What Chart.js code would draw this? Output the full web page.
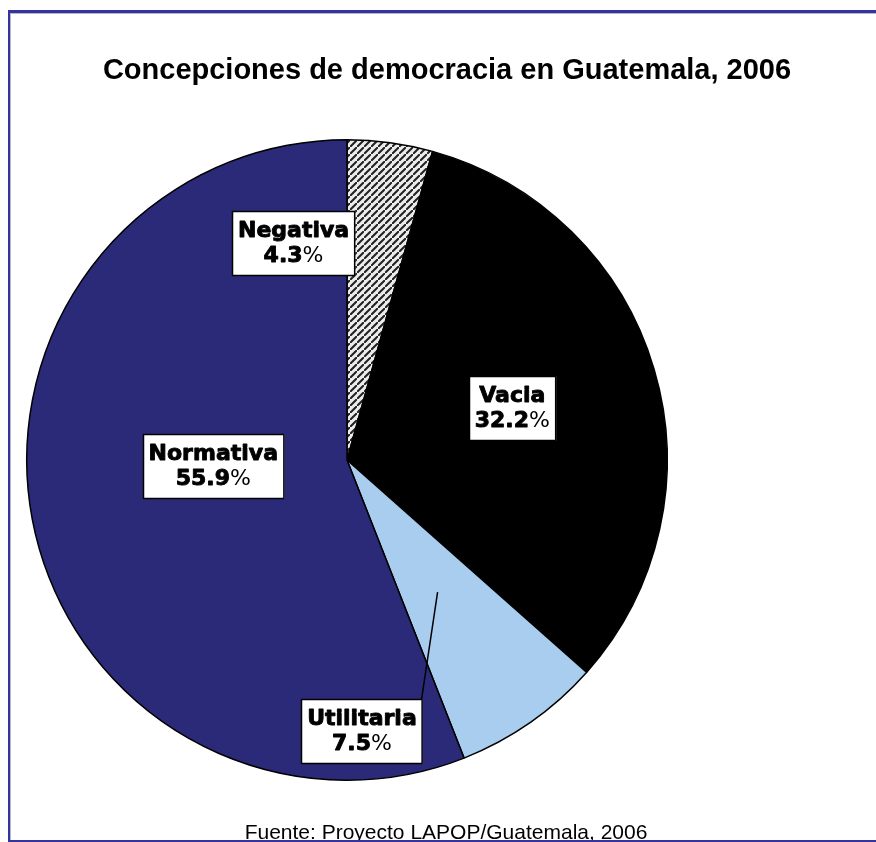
<!DOCTYPE html>
<html>
<head>
<meta charset="utf-8">
<script src="https://cdn.jsdelivr.net/npm/chart.js@4/dist/chart.umd.min.js"></script>
<style>
  html, body { margin: 0; padding: 0; background: #fff; }
  canvas { display: block; }
</style>
</head>
<body>
<canvas id="pieChart" width="876" height="842"></canvas>
<script>
// Datos del gráfico
const categories = ['Negativa', 'Vacia', 'Utilitaria', 'Normativa'];
const percentages = [4.3, 32.2, 7.5, 55.9];
const chartTitle = 'Concepciones de democracia en Guatemala, 2006';
const sourceNote = 'Fuente: Proyecto LAPOP/Guatemala, 2006';

// Motivo rayado para la porción "Negativa"
function makeHatch() {
    const s = 7;
    const tile = document.createElement('canvas');
    tile.width = s;
    tile.height = s;
    const c = tile.getContext('2d');
    c.fillStyle = '#ececec';
    c.fillRect(0, 0, s, s);
    c.strokeStyle = '#222';
    c.lineWidth = 2;
    c.beginPath();
    c.moveTo(-1, s + 1); c.lineTo(s + 1, -1);
    c.moveTo(-s - 1, 1); c.lineTo(1, -s - 1);
    c.moveTo(s - 1, 2 * s + 1); c.lineTo(2 * s + 1, s - 1);
    c.stroke();
    return document.getElementById('pieChart').getContext('2d').createPattern(tile, 'repeat');
}

// Ajustes de posición de las etiquetas (ángulo extra en grados, fracción del radio)
const labelPlacement = {
    Negativa:   { dAngle: -21.6, frac: 0.697 },
    Vacia:      { dAngle: -0.9,  frac: 0.541 },
    Utilitaria: { dAngle: 31.8,  frac: 0.848, leader: { dAngle: 0.5, frac: 0.5 } },
    Normativa:  { dAngle: 8.0,   frac: 0.418 }
};

const framePlugin = {
    id: 'frame',
    afterDraw(chart) {
        const ctx = chart.ctx;
        const w = chart.width;
        ctx.save();
        // título
        ctx.fillStyle = '#000';
        ctx.textAlign = 'center';
        ctx.textBaseline = 'alphabetic';
        ctx.font = 'bold 29px "Liberation Sans", Arial, sans-serif';
        ctx.fillText(chartTitle, 447, 79);
        // fuente
        ctx.font = '21px "Liberation Sans", Arial, sans-serif';
        ctx.fillText(sourceNote, 446, 839);
        // marco
        ctx.fillStyle = '#b8b8b8';
        ctx.fillRect(10, 13, 1, 827);
        ctx.fillRect(10, 13, w - 10, 1);
        ctx.fillStyle = '#3434a0';
        ctx.fillRect(8, 10, 2, 832);
        ctx.fillRect(8, 10, w - 8, 3);
        ctx.fillRect(8, 840, w - 8, 2);
        ctx.restore();
    }
};

function heavyText(ctx, text, x, y) {
    ctx.fillText(text, x, y);
    ctx.strokeText(text, x, y);
}

const boxLabelPlugin = {
    id: 'boxLabels',
    afterDatasetsDraw(chart) {
        const ctx = chart.ctx;
        const meta = chart.getDatasetMeta(0);
        const nameFont = 'bold 22px "DejaVu Sans", sans-serif';
        const pctFont = '22px "DejaVu Sans", sans-serif';
        const lineH = 25;
        ctx.save();
        meta.data.forEach((arc, i) => {
            const name = categories[i];
            const place = labelPlacement[name];
            const mid = (arc.startAngle + arc.endAngle) / 2;
            const r = arc.outerRadius;
            const a = mid + place.dAngle * Math.PI / 180;
            const cx = arc.x + Math.cos(a) * r * place.frac;
            const cy = arc.y + Math.sin(a) * r * place.frac;

            const num = percentages[i].toFixed(1);
            ctx.font = nameFont;
            const nameW = ctx.measureText(name).width;
            const numW = ctx.measureText(num).width;
            ctx.font = pctFont;
            const pctW = ctx.measureText('%').width;
            const boxW = Math.max(nameW, numW + pctW) + 12;
            const boxH = lineH * 2 + 15;
            const bx = Math.round(cx - boxW / 2);
            const by = Math.round(cy - boxH / 2);

            if (place.leader) {
                const la = mid + place.leader.dAngle * Math.PI / 180;
                const lx = arc.x + Math.cos(la) * r * place.leader.frac;
                const ly = arc.y + Math.sin(la) * r * place.leader.frac;
                ctx.strokeStyle = '#000';
                ctx.lineWidth = 1.5;
                ctx.beginPath();
                ctx.moveTo(lx, ly);
                ctx.lineTo(bx + boxW - 1, by);
                ctx.stroke();
            }

            ctx.fillStyle = '#fff';
            ctx.fillRect(bx, by, boxW, boxH);
            ctx.strokeStyle = '#000';
            ctx.lineWidth = 1.5;
            ctx.strokeRect(bx + 0.5, by + 0.5, boxW - 1, boxH - 1);

            ctx.fillStyle = '#000';
            ctx.strokeStyle = '#000';
            ctx.lineWidth = 0.9;
            ctx.lineJoin = 'round';
            ctx.textBaseline = 'middle';
            ctx.textAlign = 'left';
            ctx.font = nameFont;
            heavyText(ctx, name, cx - nameW / 2, by + 7 + lineH / 2 + 1);
            const lineX = cx - (numW + pctW) / 2;
            heavyText(ctx, num, lineX, by + 7 + lineH * 1.5 + 1);
            ctx.font = pctFont;
            ctx.fillText('%', lineX + numW, by + 7 + lineH * 1.5 + 1);
        });
        ctx.restore();
    }
};

new Chart(document.getElementById('pieChart'), {
    type: 'pie',
    data: {
        labels: categories,
        datasets: [{
            data: percentages,
            backgroundColor: [makeHatch(), '#000000', '#a9cdee', '#2a2a78'],
            borderColor: '#000000',
            borderWidth: 1.5
        }]
    },
    options: {
        responsive: false,
        animation: false,
        devicePixelRatio: 1,
        layout: {
            padding: { left: 26, right: 208, top: 139, bottom: 61 }
        },
        plugins: {
            legend: { display: false },
            tooltip: { enabled: false },
            title: { display: false }
        }
    },
    plugins: [boxLabelPlugin, framePlugin]
});
</script>
</body>
</html>
